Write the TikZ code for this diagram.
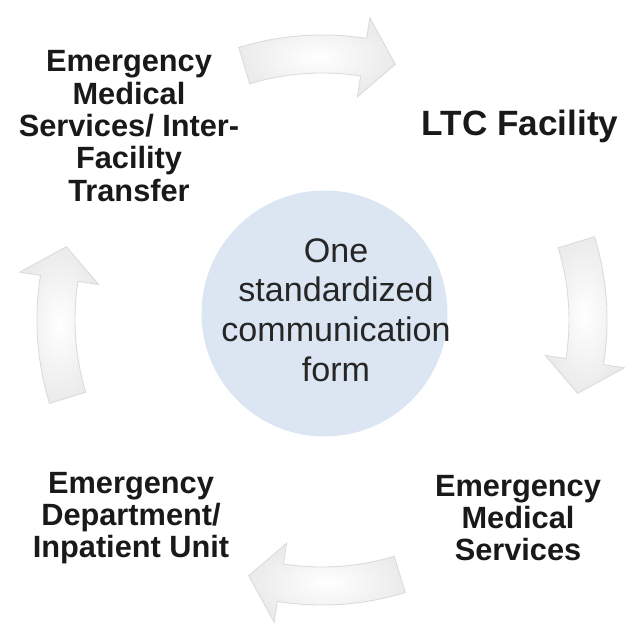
\documentclass[tikz,border=0pt]{standalone}
\usepackage{fontspec}
\setmainfont{Liberation Sans}
\usetikzlibrary{positioning}

\definecolor{hubblue}{RGB}{220,230,242}

% curved block arrow on the ring round (hub), #1 = its middle angle
\newcommand{\ringarrow}[1]{%
  \draw[ringarrowstyle]
    ([shift={(hub)}]#1+17:285) arc[start angle=#1+17, end angle=#1-9, radius=285]
    -- ([shift={(hub)}]#1-9:306)
    -- ([shift={(hub)}]#1-16:266)
    -- ([shift={(hub)}]#1-9:226)
    -- ([shift={(hub)}]#1-9:247)
    arc[start angle=#1-9, end angle=#1+17, radius=247] -- cycle;}

\begin{document}
\begin{tikzpicture}
  [x=0.02cm, y=0.02cm,
   stage/.style={align=center, inner sep=0pt, text=black!90,
      font={\fontsize{17.5}{18.4}\selectfont\bfseries}},
   hubtext/.style={align=center, inner sep=0pt, text=black!85,
      font={\fontsize{19.4}{22.6}\selectfont}},
   ringarrowstyle/.style={draw=gray!28, line width=0.5pt,
      inner color=white, outer color=gray!16}]
  \useasboundingbox (0,0) rectangle (635,635);
  \coordinate (hub) at (322,315);

  % centre disc
  \node[circle, fill=hubblue, minimum size=4.92cm, inner sep=0pt]
    (disc) at (324.5,321.5) {};
  \node[hubtext] (form) at (336,325)
    {One\\standardized\\communication\\form};

  % the four stages
  \node[stage] (emsift) at (129,509)
    {Emergency\\Medical\\Services/ Inter-\\Facility\\Transfer};
  \node[stage, font={\fontsize{20}{22}\selectfont\bfseries}]
    (ltc) at (520,509) {LTC Facility};
  \node[stage] (ems) at (518,117) {Emergency\\Medical\\Services};
  \node[stage] (ed) at (131,117)
    {Emergency\\Department/\\Inpatient Unit};

  % arrows round the ring, clockwise
  \foreach \a in {90,0,-90,180} {
    \ringarrow{\a}
  }
\end{tikzpicture}
\end{document}
